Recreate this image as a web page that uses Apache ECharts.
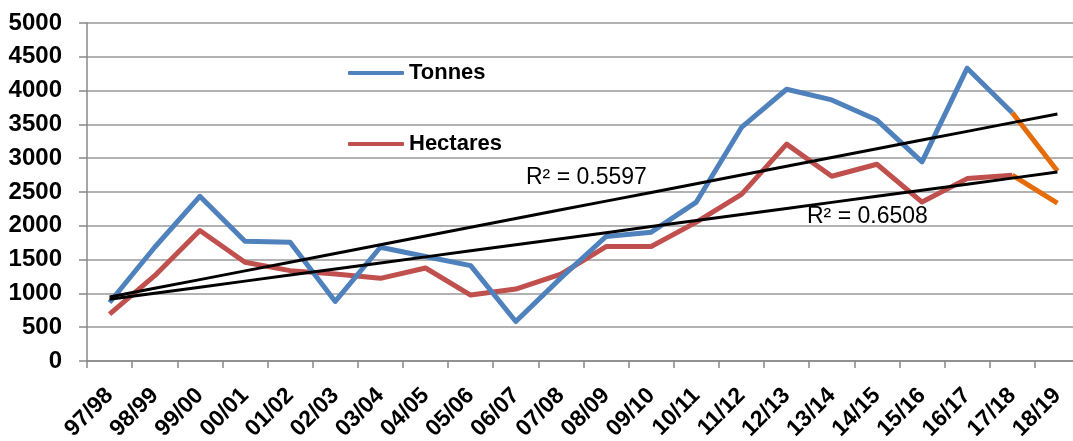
<!DOCTYPE html>
<html>
<head>
<meta charset="utf-8">
<script src="https://cdn.jsdelivr.net/npm/echarts@6/dist/echarts.min.js"></script>
<style>
  html, body { margin: 0; padding: 0; background: #fff; }
  #chart { width: 1073px; height: 441px; }
</style>
</head>
<body>
<div id="chart"></div>
<script>
// categories (seasons)
var seasons = ['97/98', '98/99', '99/00', '00/01', '01/02', '02/03', '03/04', '04/05', '05/06', '06/07', '07/08',
    '08/09', '09/10', '10/11', '11/12', '12/13', '13/14', '14/15', '15/16', '16/17', '17/18', '18/19'];
// values
var tonnes = [866, 1683, 2436, 1772, 1757, 881, 1683, 1545, 1411, 584, 1230,
    1842, 1906, 2351, 3455, 4020, 3862, 3564, 2946, 4332, 3673, 2812];
var hectares = [693, 1262, 1931, 1460, 1337, 1287, 1223, 1376, 975, 1064, 1285,
    1693, 1693, 2054, 2465, 3208, 2733, 2911, 2351, 2698, 2748, 2337];
var r2Labels = ['R\u00b2 = 0.5597', 'R\u00b2 = 0.6508'];

var FONT = "'Liberation Sans', Arial, sans-serif";
var chart = echarts.init(document.getElementById('chart'));

// linear trend (least squares) over the category index
function trend(values) {
    var n = values.length, sx = 0, sy = 0, sxy = 0, sxx = 0;
    for (var i = 0; i < n; i++) {
        sx += i; sy += values[i]; sxy += i * values[i]; sxx += i * i;
    }
    var b = (n * sxy - sx * sy) / (n * sxx - sx * sx);
    var a = (sy - b * sx) / n;
    var out = [];
    for (var j = 0; j < n; j++) out.push(a + b * j);
    return out;
}

// main line stops at 17/18, last segment drawn in orange
function head(values) {
    return values.map(function (v, i) { return i < values.length - 1 ? v : '-'; });
}
function tail(values) {
    return values.map(function (v, i) { return i >= values.length - 2 ? v : '-'; });
}

var option = {
    animation: false,
    grid: { left: 87, right: -7, top: 23, bottom: 80, containLabel: false, outerBoundsMode: 'none' },
    legend: {
        data: ['Tonnes', 'Hectares'],
        orient: 'vertical',
        left: 348,
        top: 61,
        padding: 0,
        itemGap: 47,
        itemWidth: 56,
        itemHeight: 4,
        icon: 'roundRect',
        textStyle: { fontFamily: FONT, fontWeight: 'bold', fontSize: 22, color: '#000', lineHeight: 24 }
    },
    xAxis: {
        type: 'category',
        data: seasons,
        boundaryGap: true,
        axisLine: { lineStyle: { color: '#888', width: 1.5 } },
        axisTick: { show: true, length: 7, lineStyle: { color: '#888', width: 1.5 } },
        axisLabel: {
            interval: 0, rotate: 45, margin: 31,
            fontFamily: FONT, fontWeight: 'bold', fontSize: 23, color: '#000'
        },
        splitLine: { show: false }
    },
    yAxis: {
        type: 'value',
        min: 0, max: 5000, interval: 500,
        axisLine: { show: true, lineStyle: { color: '#888', width: 1.5 } },
        axisTick: { show: true, length: 8, lineStyle: { color: '#888', width: 1.5 } },
        axisLabel: {
            margin: 25, fontFamily: FONT, fontWeight: 'bold', fontSize: 24, color: '#000',
            formatter: function (v) { return String(v); }
        },
        splitLine: { lineStyle: { color: '#999', width: 1.5 } }
    },
    series: [
        {
            name: 'Tonnes', type: 'line', data: head(tonnes), symbol: 'none', z: 3,
            itemStyle: { color: '#4F81BD' },
            lineStyle: { color: '#4F81BD', width: 5, join: 'round' }
        },
        {
            name: 'Hectares', type: 'line', data: head(hectares), symbol: 'none', z: 2,
            itemStyle: { color: '#C0504D' },
            lineStyle: { color: '#C0504D', width: 5, join: 'round' }
        },
        {
            name: 'Tonnes 18/19', type: 'line', data: tail(tonnes), symbol: 'none', z: 4,
            lineStyle: { color: '#E46C0A', width: 5 }
        },
        {
            name: 'Hectares 18/19', type: 'line', data: tail(hectares), symbol: 'none', z: 4,
            lineStyle: { color: '#E46C0A', width: 5 }
        },
        {
            name: 'Trend Tonnes', type: 'line', data: trend(tonnes), symbol: 'none', z: 5,
            lineStyle: { color: '#000', width: 3 }
        },
        {
            name: 'Trend Hectares', type: 'line', data: trend(hectares), symbol: 'none', z: 5,
            lineStyle: { color: '#000', width: 3 }
        }
    ],
    graphic: [
        {
            type: 'text', left: 526, top: 166, z: 10,
            style: { text: r2Labels[0], font: '23px ' + FONT, fill: '#000' }
        },
        {
            type: 'text', left: 807, top: 205, z: 10,
            style: { text: r2Labels[1], font: '23px ' + FONT, fill: '#000' }
        }
    ]
};

chart.setOption(option);
</script>
</body>
</html>
